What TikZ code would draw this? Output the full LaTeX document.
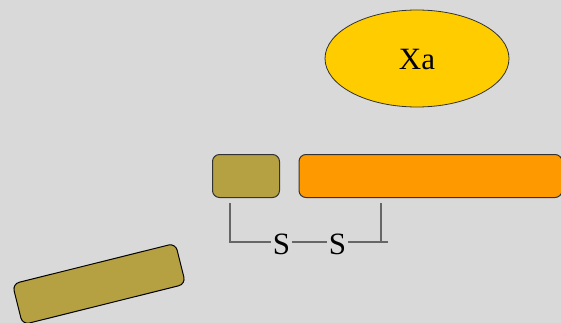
\documentclass[tikz,border=0pt]{standalone}
\usepackage{fontspec}
\setmainfont{Liberation Serif}
\usetikzlibrary{shapes.geometric}
\definecolor{bg}{HTML}{D9D9D9}
\definecolor{olive}{HTML}{B5A042}
\definecolor{orng}{HTML}{FF9900}
\definecolor{yell}{HTML}{FFCC00}
\definecolor{edge}{HTML}{333333}
\definecolor{brk}{HTML}{666666}
\tikzset{
  box/.style={draw=edge, line width=1pt, rounded corners=7pt, inner sep=0pt},
  oval/.style={ellipse, draw=edge, line width=0.8pt, fill=yell, inner sep=0pt, minimum width=184pt, minimum height=97pt},
  lbl/.style={inner sep=0pt, font=\fontsize{31}{34}\selectfont},
  bracket/.style={draw=brk, line width=1.3pt}
}
\begin{document}
\begin{tikzpicture}[x=1pt,y=-1pt]
\useasboundingbox (0,0) rectangle (561,323);
\fill[bg] (0,0) rectangle (561,323);
\clip (0,0) rectangle (561,323);
\node[oval] (xa) at (417,58.5) {};
\node[lbl] (xat) at (417,60) {Xa};
\node[box, fill=olive, minimum width=67pt, minimum height=43pt] (b1) at (246,176) {};
\node[box, fill=orng, minimum width=263pt, minimum height=43pt] (b2) at (430.5,176) {};
\node[box, draw=black, fill=olive, minimum width=168pt, minimum height=42pt, rotate=14] (b3) at (99,284) {};
\node[lbl] (s1) at (281.5,244.5) {S};
\node[lbl] (s2) at (337.5,244.5) {S};
\coordinate (l1) at (230,203);
\coordinate (l2) at (230,242);
\coordinate (r1) at (381,203);
\coordinate (r2) at (381,242);
\coordinate (r3) at (388,242);
\draw[bracket] (l1) -- (l2) -- ([xshift=-2pt]s1.west |- l2);
\draw[bracket] ([xshift=2pt]s1.east |- l2) -- ([xshift=-2pt]s2.west |- l2);
\draw[bracket] ([xshift=2pt]s2.east |- l2) -- (r3);
\draw[bracket] (r1) -- (r2);
\end{tikzpicture}
\end{document}
